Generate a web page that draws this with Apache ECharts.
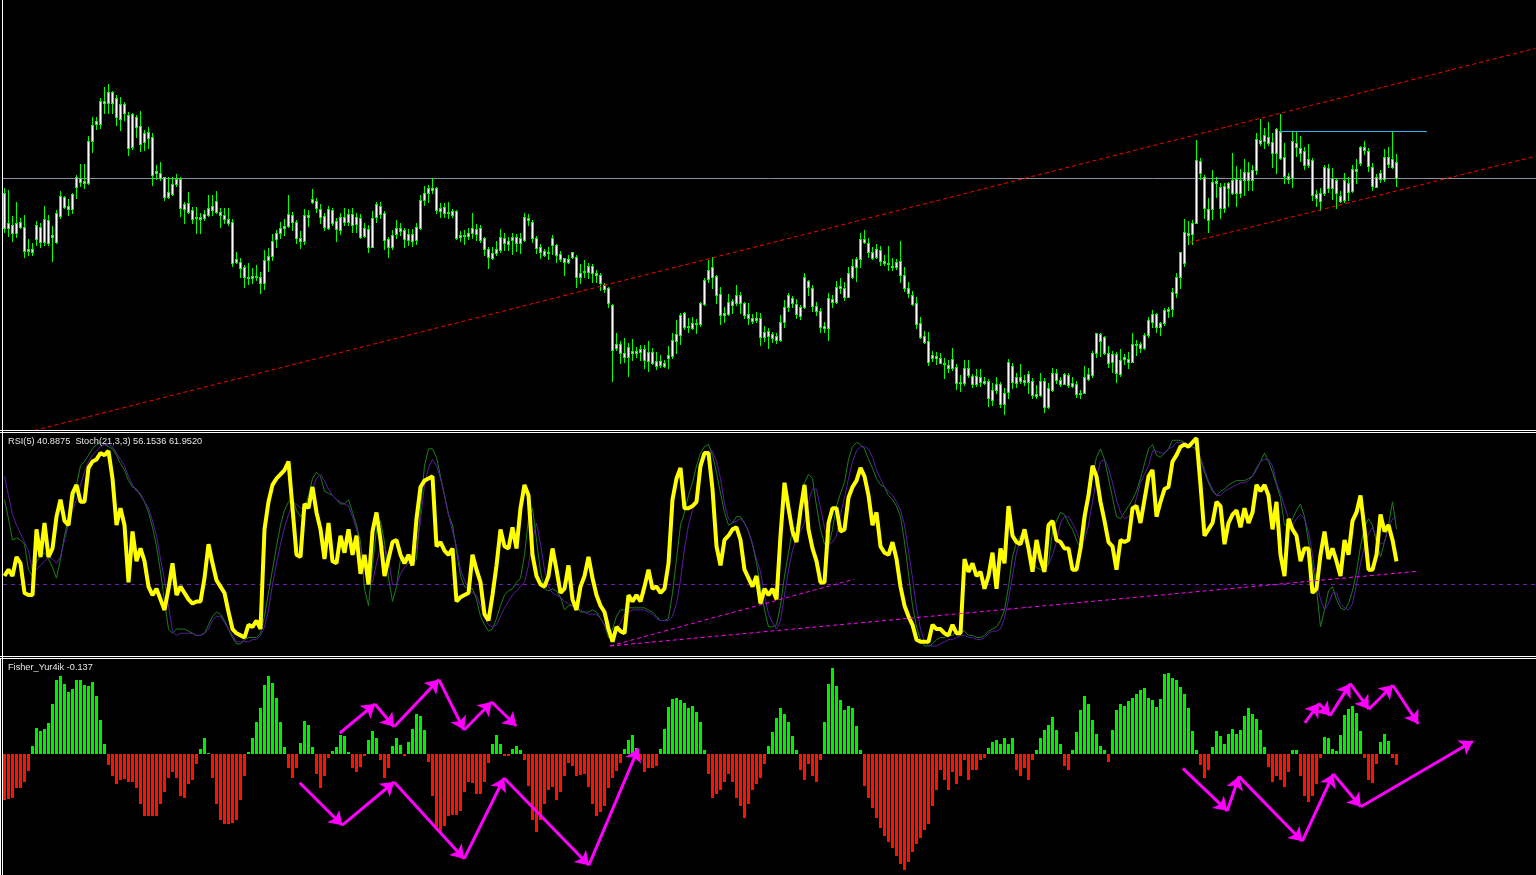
<!DOCTYPE html>
<html><head><meta charset="utf-8">
<script src="https://cdn.jsdelivr.net/npm/echarts@6/dist/echarts.min.js"></script>
<style>html,body{margin:0;padding:0;background:#000;overflow:hidden}#c{width:1536px;height:875px}</style>
</head><body><div id="c"></div>
<script>
// ---------- price panel (price points) ----------
const opens = [237,207,205,197,203,203,181,181,191,203,
188,210,195,188,214,223,224,221,243,248,
249,247,289,306,306,327,327,338,332,326,
317,315,283,303,304,297,292,293,259,257,
253,238,236,246,251,226,227,220,213,213,
212,215,220,218,218,215,211,208,171,168,
163,153,152,153,153,147,170,174,191,197,
202,204,208,208,192,189,213,228,229,221,
214,202,207,209,200,208,208,216,213,212,
202,201,183,213,216,217,191,183,196,199,
200,196,196,190,202,230,237,240,242,222,
223,218,219,219,195,194,194,197,201,202,
192,181,177,177,180,187,189,190,193,192,
190,210,208,192,183,179,177,185,185,176,
172,171,173,173,157,158,158,164,157,155,
145,142,125,86,86,77,73,79,77,78,
81,78,78,69,65,67,72,74,89,95,
103,104,102,106,106,126,151,153,154,136,
117,116,125,127,135,127,116,112,110,112,
98,94,96,94,90,108,123,127,126,123,
123,143,142,124,119,104,102,128,128,142,
142,133,153,163,171,188,187,178,173,180,
169,167,164,163,169,155,142,135,127,107,
94,89,75,74,72,67,65,62,63,48,
47,55,54,46,53,49,49,40,40,46,
26,38,48,53,49,50,48,49,36,35,
49,23,40,50,50,46,55,47,46,36,
37,51,55,77,89,93,77,68,76,56,
71,71,68,85,86,82,95,108,116,107,
107,119,121,137,153,167,195,196,207,257,
253,221,221,247,243,222,242,250,237,250,
250,258,250,260,287,289,293,288,277,298,
273,254,252,283,282,279,271,270,236,237,
237,242,252,250,234,230,238,239,259,267,
280,279,263,253,251,251,266,271,268];
const closes = [202,202,197,207,208,179,179,178,205,188,
211,187,193,217,234,233,221,236,253,252,
247,289,305,309,329,329,338,327,313,311,
326,282,316,313,286,288,298,255,257,252,
233,233,246,251,222,221,218,211,212,211,
216,222,224,229,215,211,207,167,168,162,
153,152,154,154,147,170,174,189,197,202,
204,216,215,192,189,215,215,231,222,213,
203,221,220,201,213,213,216,205,206,193,
194,183,212,226,224,190,183,195,202,202,
191,190,189,203,230,237,242,242,220,219,
217,217,215,192,193,195,197,202,196,190,
181,173,172,181,193,192,186,193,187,187,
213,212,192,182,178,175,178,192,175,171,
168,168,178,153,153,159,164,157,155,147,
141,127,80,82,77,73,83,77,79,81,
70,69,67,64,69,64,75,90,96,115,
117,103,107,107,127,150,160,163,135,115,
115,128,129,135,127,115,112,109,112,93,
93,99,92,90,108,123,135,132,116,114,
153,149,124,119,103,102,132,131,143,144,
133,157,164,171,191,191,178,172,181,169,
167,166,163,168,155,142,137,126,106,93,
88,68,72,72,67,66,62,71,47,47,
62,62,46,54,48,47,32,30,46,26,
37,68,64,47,53,48,56,35,34,49,
23,42,57,57,46,56,45,44,36,37,
53,56,77,97,96,77,67,76,57,70,
73,68,86,86,82,95,110,116,103,103,
120,121,138,153,178,198,197,207,270,269,
222,210,248,249,222,244,247,237,251,237,
258,250,260,291,290,295,287,277,301,272,
254,251,289,287,277,265,265,235,232,229,
263,262,242,237,229,250,247,261,261,283,
283,264,244,243,257,273,273,263,252];
const highs = [242,240,214,228,212,215,191,187,209,207,
224,215,204,220,239,234,231,237,255,266,
266,294,313,313,332,343,346,339,335,333,
328,318,317,315,319,300,303,297,265,268,
253,253,253,256,253,228,238,223,223,217,
220,235,235,239,222,222,222,211,178,172,
165,167,162,165,158,180,182,196,200,208,
211,235,218,210,199,221,220,241,232,226,
217,224,222,212,217,222,221,222,217,216,
207,205,219,228,228,219,193,200,210,207,
202,201,201,207,235,244,245,252,243,227,
227,228,221,220,199,200,202,217,206,205,
193,183,183,189,201,197,193,197,196,197,
217,216,210,194,186,181,183,195,186,179,
172,175,178,175,166,170,167,166,160,157,
147,143,126,97,89,92,87,91,83,85,
85,89,82,78,75,70,84,97,110,117,
118,112,113,111,128,152,170,173,155,143,
123,136,131,145,138,128,127,116,118,117,
104,102,98,97,115,130,137,134,131,125,
157,150,145,128,122,108,137,135,149,152,
148,163,171,173,197,200,192,183,186,184,
175,184,172,171,189,163,148,139,133,113,
99,98,79,78,77,72,70,82,66,55,
70,70,56,61,61,53,51,47,53,48,
42,71,67,57,66,55,59,52,45,57,
52,47,62,61,53,57,57,53,49,40,
64,62,79,97,97,94,84,79,78,81,
76,78,97,90,88,97,113,120,117,108,
122,123,142,157,178,211,209,210,290,272,
255,232,260,253,247,247,248,277,264,261,
271,268,265,297,311,302,308,297,302,316,
287,257,298,298,294,283,286,272,240,242,
265,266,262,252,239,257,253,265,271,284,
289,282,267,256,260,281,283,298,276];
const lows = [198,194,189,193,202,173,175,175,185,183,
185,185,169,187,212,222,215,217,232,244,
242,246,278,301,302,317,317,317,305,300,
310,275,281,293,279,280,282,245,251,250,
230,232,235,244,214,207,217,207,197,197,
210,214,215,217,203,207,205,164,167,153,
143,146,147,150,137,141,159,170,183,192,
195,203,200,187,182,186,204,227,218,207,
200,201,205,189,196,205,205,198,198,192,
193,178,183,208,212,181,173,181,192,195,
183,185,184,186,201,225,228,237,217,213,
213,212,213,191,189,186,191,192,190,188,
175,162,171,175,178,180,180,176,179,177,
189,205,188,177,172,174,171,176,168,169,
155,167,172,143,147,153,152,148,148,140,
138,123,49,80,67,68,54,70,73,70,
62,59,66,61,63,63,62,72,77,86,
101,98,101,97,104,125,148,142,127,106,
108,115,117,125,117,112,106,107,108,85,
89,82,88,87,89,103,119,123,112,111,
122,135,119,115,98,98,90,123,127,137,
130,133,152,149,163,187,173,171,172,165,
165,160,160,161,148,139,133,125,102,92,
87,65,69,66,67,52,58,60,41,39,
45,53,43,44,44,46,24,25,37,23,
16,32,42,43,47,45,37,32,32,34,
18,22,39,47,44,46,43,43,33,32,
37,50,53,73,74,76,63,58,48,54,
66,62,68,75,78,81,93,103,98,95,
105,113,114,133,142,164,186,186,207,251,
212,198,211,233,212,218,224,236,224,233,
235,240,240,256,285,282,285,263,257,271,
247,247,243,274,269,261,263,230,224,220,
235,238,231,222,228,228,230,238,247,265,
276,259,240,243,248,249,263,262,244];
const bidLevel = 252;
const resistanceLevel = 299;
const resistanceSpan = [318.6, 355.6];
const channelUpper = [[7.4, 0], [382.6, 382]];
const channelLower = [[296.1, 188], [382.6, 274]];

// ---------- RSI(5) / Stoch(21,3,3) ----------
const rsi = [34,37,34,43,40,26,25,25,56,43,
59,43,47,62,70,60,58,73,77,69,
69,85,88,89,92,91,93,80,58,66,
58,31,55,41,47,41,29,25,28,23,
18,28,40,25,29,26,23,21,22,22,
33,49,40,32,29,26,17,9,7,6,
5,11,10,13,9,56,69,77,80,82,
84,88,66,44,43,68,66,76,64,56,
42,59,41,40,53,45,56,44,53,35,
44,30,55,64,51,34,42,50,51,44,
40,44,39,61,76,79,80,81,48,50,
46,44,47,22,24,25,26,44,37,31,
16,13,25,39,56,48,47,57,47,66,
77,72,44,34,30,29,34,47,37,26,
28,39,23,18,29,34,43,33,25,20,
17,9,3,10,8,7,25,22,25,22,
29,37,28,29,26,28,40,70,80,85,
66,66,67,69,86,92,92,75,48,39,
51,53,56,57,51,37,33,29,34,21,
28,25,28,23,53,78,66,55,50,65,
77,56,47,41,31,31,59,66,66,55,
56,71,76,79,85,81,72,58,64,48,
45,44,50,42,29,20,15,11,4,3,
3,3,11,9,9,7,6,11,7,7,
42,36,40,34,36,28,34,45,28,47,
40,67,53,50,49,56,47,36,51,42,
36,58,60,51,50,47,47,37,37,47,
62,72,86,81,69,60,50,48,37,51,
50,51,66,67,59,70,81,84,62,69,
75,76,88,91,95,96,95,97,99,77,
53,56,59,69,67,49,59,63,65,57,
66,59,64,77,74,77,72,56,69,44,
34,61,56,53,41,47,47,26,28,44,
55,42,47,41,34,51,44,60,64,72,
56,37,37,44,63,55,58,51,40.8875];
const stochMain = [70,61,51,52,51,49,37,34,41,43,
45,42,38,33,42,53,61,67,77,86,
88,91,94,96,97,96,95,94,91,87,
84,79,76,75,72,69,64,57,48,36,
22,9,7,9,9,9,8,7,6,6,
7,11,15,17,16,13,9,5,2,2,
4,5,5,5,7,15,26,37,48,58,
65,69,71,65,62,65,72,80,83,81,
74,73,72,70,68,68,70,64,58,50,
28,20,39,56,60,50,33,22,29,42,
43,40,40,42,66,86,94,94,90,81,
72,63,58,46,34,29,28,28,23,15,
11,8,9,14,20,25,27,28,31,33,
44,61,66,51,36,28,27,28,27,24,
18,20,20,20,17,17,17,18,17,14,
11,5,9,15,18,18,19,19,19,19,
19,18,17,15,13,13,14,26,42,58,
64,72,78,86,92,95,96,91,83,73,
64,58,59,62,62,59,55,49,40,29,
18,10,10,11,20,34,45,56,57,66,
78,82,80,67,56,49,48,56,67,73,
78,89,95,97,96,94,89,85,80,77,
76,72,70,67,62,50,35,20,10,4,
1,1,2,4,5,5,6,6,8,8,
8,6,6,5,5,6,8,9,10,13,
18,29,43,50,53,52,47,40,38,37,
36,40,55,60,64,63,59,56,51,47,
54,72,81,90,94,89,80,71,62,61,
64,67,70,74,80,87,94,96,91,90,
92,94,98,98,98,97,95,95,94,89,
83,78,74,72,74,75,77,78,79,79,
79,80,81,85,88,92,88,83,77,71,
58,58,61,65,68,62,50,39,28,10,
18,27,29,23,19,18,21,27,36,48,
57,61,58,50,43,50,58,69,56.1536];
const stochSignal = [81,72,63,58,54,50,46,36,37,39,
41,43,42,40,43,51,58,65,70,77,
83,88,91,93,95,96,96,95,92,89,
86,81,77,74,73,69,66,60,53,42,
32,20,8,6,7,7,7,7,6,6,
7,9,13,15,15,12,9,6,3,3,
3,3,4,4,6,10,18,30,40,49,
57,63,68,68,66,66,69,75,80,82,
79,75,72,70,69,68,67,62,56,48,
40,34,31,40,48,48,42,30,30,35,
38,40,41,47,60,77,85,89,86,80,
72,63,55,48,37,32,28,26,25,20,
14,11,10,11,15,19,22,25,27,29,
31,39,51,59,49,37,29,26,25,24,
22,21,20,19,18,17,16,16,16,14,
11,7,5,8,12,16,17,18,18,18,
18,17,16,14,13,13,13,15,21,32,
47,58,65,71,83,90,93,93,88,80,
68,61,59,60,61,59,55,49,42,36,
25,16,12,9,13,25,37,46,52,55,
59,69,75,75,66,57,49,50,53,63,
71,80,88,93,95,95,94,90,84,80,
76,74,72,69,65,58,46,33,19,9,
3,1,1,1,2,3,4,4,5,6,
6,5,5,4,4,5,7,8,8,9,
14,23,34,45,52,50,49,45,43,40,
38,39,44,50,59,62,62,59,55,50,
51,58,69,80,88,89,85,78,70,64,
61,62,64,71,78,82,86,93,93,92,
92,94,95,97,97,97,96,95,93,90,
84,79,75,72,72,74,75,76,77,78,
78,79,81,84,88,89,89,86,78,73,
67,61,58,61,63,61,55,44,31,23,
18,21,26,26,21,19,18,21,30,40,
48,54,57,52,49,50,57,61,61.9520];
const rsiLevel = 30;
const supportA = [[151.4, 1], [212.4, 32.5]];
const supportB = [[151.4, 1], [353.6, 36.3]];

// ---------- Fisher_Yur4ik ----------
const fisher = [-0.575,-0.56,-0.55,-0.43,-0.43,-0.35,-0.21,0.10,0.33,0.29,
0.31,0.39,0.63,0.93,0.98,0.88,0.78,0.81,0.93,0.93,
0.86,0.85,0.90,0.73,0.43,0.13,-0.14,-0.28,-0.37,-0.33,
-0.31,-0.35,-0.35,-0.42,-0.62,-0.78,-0.78,-0.78,-0.77,-0.63,
-0.47,-0.30,-0.23,-0.30,-0.52,-0.55,-0.38,-0.32,-0.13,0.06,
0.20,0.01,-0.30,-0.62,-0.83,-0.88,-0.88,-0.86,-0.83,-0.57,
-0.27,0.025,0.20,0.40,0.58,0.86,0.98,0.89,0.70,0.40,
0.09,-0.17,-0.30,-0.17,0.14,0.41,0.36,0.09,-0.25,-0.42,
-0.28,-0.05,0.04,0.09,0.24,0.23,0.025,-0.18,-0.23,-0.16,
-0.03,0.18,0.29,0.20,-0.08,-0.30,-0.17,0.10,0.20,0.11,
-0.025,0.15,0.31,0.50,0.48,0.30,-0.10,-0.53,-0.91,-0.96,
-0.90,-0.78,-0.76,-0.76,-0.71,-0.48,-0.35,-0.36,-0.50,-0.50,
-0.35,-0.11,0.125,0.24,0.125,-0.02,-0.02,0.06,0.10,0.05,
-0.08,-0.40,-0.82,-0.97,-0.82,-0.62,-0.45,-0.41,-0.57,-0.47,
-0.27,-0.11,-0.15,-0.27,-0.26,-0.25,-0.41,-0.63,-0.77,-0.73,
-0.65,-0.43,-0.30,-0.21,-0.11,0.06,0.18,0.24,0.075,-0.08,
-0.23,-0.17,-0.18,-0.15,0.06,0.31,0.59,0.69,0.70,0.675,
0.64,0.58,0.60,0.52,0.40,0.05,-0.25,-0.55,-0.50,-0.45,
-0.35,-0.25,-0.35,-0.55,-0.65,-0.80,-0.62,-0.45,-0.38,-0.30,
-0.12,0.10,0.28,0.45,0.57,0.50,0.40,0.22,0.05,-0.20,
-0.32,-0.12,-0.28,-0.35,-0.08,0.40,0.88,1.07,0.85,0.68,
0.55,0.60,0.57,0.35,0.05,-0.40,-0.55,-0.68,-0.80,-0.92,
-1.02,-1.10,-1.18,-1.28,-1.38,-1.45,-1.35,-1.22,-1.12,-1.05,
-0.95,-0.88,-0.65,-0.45,-0.20,-0.33,-0.45,-0.22,-0.38,-0.27,
-0.08,-0.33,-0.20,-0.20,-0.08,-0.05,0.08,0.15,0.18,0.12,
0.20,0.12,0.20,-0.20,-0.27,-0.18,-0.33,-0.08,0.05,0.20,
0.30,0.36,0.46,0.30,0.12,-0.15,-0.20,0.05,0.28,0.55,
0.73,0.62,0.42,0.25,0.10,0.05,-0.10,0.30,0.55,0.63,
0.60,0.66,0.70,0.75,0.80,0.82,0.70,0.675,0.59,0.69,
1.0,1.01,0.95,0.93,0.84,0.75,0.575,0.29,0.05,-0.14,
-0.30,-0.20,0.09,0.29,0.225,0.125,0.25,0.31,0.25,0.30,
0.475,0.575,0.50,0.44,0.30,0.09,-0.16,-0.35,-0.28,-0.32,
-0.41,-0.22,0.05,0.05,-0.28,-0.52,-0.60,-0.53,-0.38,-0.05,
0.21,0.20,0.06,0.04,0.24,0.49,0.56,0.60,0.51,0.29,
-0.05,-0.33,-0.36,-0.13,0.15,0.25,0.16,-0.05,-0.137];
// hand-drawn arrow paths (bar index, indicator value)
const arrowPaths = [
  [[73.8,-0.36],[84.45,-0.89],[97.4,-0.35],[114.9,-1.31],[124.9,-0.30],[146.1,-1.39],[158.45,0.07]],
  [[83.8,0.26],[92.6,0.625],[97.4,0.34],[108.6,0.93],[114.9,0.30],[121.8,0.65],[127.95,0.35]],
  [[294.6,-0.18],[305.7,-0.71],[308.6,-0.28],[324.45,-1.09],[332.2,-0.25],[339.1,-0.66],[367.1,0.16]],
  [[325.1,0.39],[328.6,0.63],[331.4,0.48],[336.45,0.88],[341.1,0.56],[347.1,0.86],[353.45,0.375]]
];

// ---------- chart ----------
const N = closes.length;
const X_MIN = -0.375, X_MAX = 382.875;
const CANDLE_GREEN = '#00ff00', HIST_GREEN = '#00f000', HIST_RED = '#ff1000';
const MAGENTA = '#ff00ff';

const candleData = closes.map((c, i) => [i, opens[i], c, lows[i], highs[i]]);
const idx = arr => arr.map((v, i) => [i, v]);

function renderCandle(params, api) {
  const i = api.value(0), o = api.value(1), c = api.value(2), l = api.value(3), h = api.value(4);
  const pHi = api.coord([i, h]), pLo = api.coord([i, l]);
  const pT = api.coord([i, Math.max(o, c)]), pB = api.coord([i, Math.min(o, c)]);
  const cx = Math.floor(pHi[0]);
  const yH = Math.floor(pHi[1]), yL = Math.floor(pLo[1]);
  const yT = Math.floor(pT[1]), yB = Math.floor(pB[1]);
  const bodyH = Math.max(1, yB - yT + 1);
  const kids = [
    {type: 'rect', shape: {x: cx, y: yH, width: 1, height: Math.max(1, yL - yH + 1)}, style: {fill: CANDLE_GREEN}},
    {type: 'rect', shape: {x: cx - 1, y: yT, width: 3, height: bodyH}, style: {fill: CANDLE_GREEN}}
  ];
  if (bodyH > 2) kids.push({type: 'rect', shape: {x: cx, y: yT + 1, width: 1, height: bodyH - 2}, style: {fill: '#ffffff'}});
  return {type: 'group', children: kids};
}
function renderHist(params, api) {
  const i = api.value(0), v = api.value(1);
  const p = api.coord([i, v]), z = api.coord([i, 0]);
  const x = Math.floor(p[0]) - 1;
  const y0 = Math.round(z[1]), y1 = Math.round(p[1]);
  return {type: 'rect', shape: {x: x, y: Math.min(y0, y1), width: 3, height: Math.max(1, Math.abs(y1 - y0))},
          style: {fill: v >= 0 ? HIST_GREEN : HIST_RED}};
}
const arrowSegs = [];
arrowPaths.forEach(p => { for (let k = 0; k < p.length - 1; k++) arrowSegs.push({coords: [p[k], p[k + 1]]}); });

const line = (g, data, color, width, type, z) => ({
  type: 'line', xAxisIndex: g, yAxisIndex: g, data: data, showSymbol: false, symbol: 'none',
  lineStyle: {color: color, width: width, type: type || 'solid'}, silent: true, z: z || 2, animation: false
});

const labelFont = '9.2px "Liberation Sans", Arial, sans-serif';
const rsiText = 'RSI(5) ' + rsi[N - 1].toFixed(4) + '  Stoch(21,3,3) ' + stochMain[N - 1].toFixed(4) + ' ' + stochSignal[N - 1].toFixed(4);
const fisherText = 'Fisher_Yur4ik ' + fisher[N - 1].toFixed(3);

const white = (x, y, w, h) => ({type: 'rect', shape: {x: x, y: y, width: w, height: h}, style: {fill: '#ffffff'}, silent: true, z: 100});

const option = {
  backgroundColor: '#000000',
  animation: false,
  grid: [
    {left: 3, top: 0.5, width: 1533, height: 430},
    {left: 3, top: 436.1, width: 1533, height: 212},
    {left: 3, top: 660, width: 1533, height: 212}
  ],
  xAxis: [0, 1, 2].map(g => ({type: 'value', gridIndex: g, min: X_MIN, max: X_MAX, show: false})),
  yAxis: [
    {type: 'value', gridIndex: 0, min: 0, max: 430, show: false},
    {type: 'value', gridIndex: 1, min: 0, max: 100, show: false},
    {type: 'value', gridIndex: 2, min: -1.475, max: 1.175, show: false}
  ],
  series: [
    line(0, [[X_MIN, bidLevel], [X_MAX, bidLevel]], '#8892a0', 1, 'solid', 1),
    {type: 'custom', xAxisIndex: 0, yAxisIndex: 0, data: candleData, renderItem: renderCandle,
     encode: {x: 0, y: [1, 2, 3, 4]}, silent: true, z: 3, animation: false},
    line(0, channelUpper, '#ff0000', 1, [4, 3], 4),
    line(0, channelLower, '#ff0000', 1, [4, 3], 4),
    line(0, [[resistanceSpan[0], resistanceLevel], [resistanceSpan[1], resistanceLevel]], '#2eb4ee', 1, 'solid', 4),

    line(1, [[X_MIN, rsiLevel], [X_MAX, rsiLevel]], '#6a1fb4', 1, [4, 4], 1),
    line(1, idx(stochMain), '#1a801a', 1, 'solid', 2),
    line(1, idx(stochSignal), '#5a1aa8', 1, 'solid', 2),
    line(1, idx(rsi), '#ffff00', 4, 'solid', 3),
    line(1, supportA, MAGENTA, 1, [4, 3], 4),
    line(1, supportB, MAGENTA, 1, [4, 3], 4),

    {type: 'custom', xAxisIndex: 2, yAxisIndex: 2, data: idx(fisher), renderItem: renderHist,
     encode: {x: 0, y: 1}, silent: true, z: 2, animation: false},
    {type: 'lines', coordinateSystem: 'cartesian2d', xAxisIndex: 2, yAxisIndex: 2, data: arrowSegs,
     symbol: ['none', 'arrow'], symbolSize: 13, silent: true, z: 5, animation: false,
     lineStyle: {color: MAGENTA, width: 3, opacity: 1, curveness: 0}}
  ],
  graphic: [
    white(0, 430, 1536, 1), white(0, 432, 1536, 1),
    white(0, 656, 1536, 1), white(0, 658, 1536, 1),
    white(2, 0, 1, 875), white(0, 658, 1, 217),
    {type: 'text', z: 101, silent: true, style: {text: rsiText, x: 8, y: 441.5, fill: '#e6e6e6', font: labelFont, align: 'left', verticalAlign: 'middle'}},
    {type: 'text', z: 101, silent: true, style: {text: fisherText, x: 8, y: 667.5, fill: '#e6e6e6', font: labelFont, align: 'left', verticalAlign: 'middle'}}
  ]
};
const chart = echarts.init(document.getElementById('c'), null, {renderer: 'canvas', devicePixelRatio: 1});
chart.setOption(option);
</script>
</body></html>
